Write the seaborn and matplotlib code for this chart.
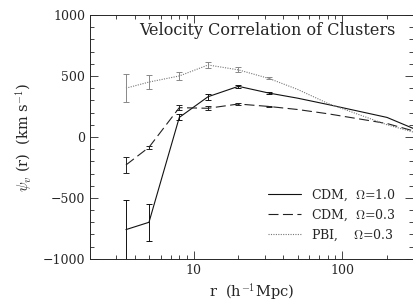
import numpy as np
import pandas as pd
import matplotlib
matplotlib.use("Agg")
import matplotlib.pyplot as plt
import seaborn as sns
from matplotlib.ticker import MultipleLocator, LogLocator, NullFormatter, FixedLocator, FixedFormatter

# ---- data ----
r = [3.5, 5, 8, 12.5, 20, 32, 50, 80, 200, 300]
cdm10 = [-760, -700, 160, 330, 415, 360, 318, 266, 160, 70]
cdm03 = [-230, -85, 240, 235, 270, 250, 225, 190, 110, 50]
pbi03 = [400, 450, 500, 590, 550, 480, 390, 275, 100, 40]
# error bars (lower, upper) for the first six points
err_r = [3.5, 5, 8, 12.5, 20, 32]
cdm10_lo = [300, 150, 25, 25, 15, 8]
cdm10_hi = [240, 150, 25, 25, 15, 8]
cdm03_lo = [65, 10, 20, 15, 10, 6]
cdm03_hi = [65, 10, 20, 15, 10, 6]
pbi03_lo = [110, 60, 30, 25, 20, 8]
pbi03_hi = [120, 60, 30, 25, 20, 8]
labels = [r"CDM,  $\Omega$=1.0", r"CDM,  $\Omega$=0.3", r"PBI,    $\Omega$=0.3"]

sns.set_style("ticks")
plt.rcParams["font.family"] = ["DejaVu Serif"]
plt.rcParams["mathtext.fontset"] = "cm"

df = pd.DataFrame({
    "r": r * 3,
    "psi": cdm10 + cdm03 + pbi03,
    "model": [labels[0]] * len(r) + [labels[1]] * len(r) + [labels[2]] * len(r),
})

fig = plt.figure(figsize=(4.14, 3.06), dpi=100)
ax = fig.add_axes([0.217, 0.154, 0.781, 0.797])

dashes = {labels[0]: "", labels[1]: (9, 4), labels[2]: (1, 1.2)}
palette = {labels[0]: "#111111", labels[1]: "#222222", labels[2]: "#777777"}
sns.lineplot(data=df, x="r", y="psi", hue="model", style="model", dashes=dashes,
             palette=palette, linewidth=0.8, ax=ax, legend=True)

n = len(err_r)
for vals, lo, hi, col in [(cdm10, cdm10_lo, cdm10_hi, "#111111"),
                          (cdm03, cdm03_lo, cdm03_hi, "#222222"),
                          (pbi03, pbi03_lo, pbi03_hi, "#888888")]:
    ax.errorbar(err_r, vals[:n], yerr=[lo, hi], fmt="none", ecolor=col,
                elinewidth=0.7, capsize=2, capthick=0.7)

ax.set_xscale("log")
ax.set_xlim(2, 300)
ax.set_ylim(-1000, 1000)
ax.yaxis.set_major_locator(MultipleLocator(500))
ax.yaxis.set_minor_locator(MultipleLocator(100))
ax.xaxis.set_major_locator(FixedLocator([10, 100]))
ax.xaxis.set_major_formatter(FixedFormatter(["10", "100"]))
ax.xaxis.set_minor_locator(LogLocator(base=10, subs=np.arange(2, 10)))
ax.xaxis.set_minor_formatter(NullFormatter())
ax.tick_params(which="both", direction="in", top=True, right=True, labelsize=9, width=0.6)
ax.tick_params(which="major", length=6)
ax.tick_params(which="minor", length=3)
for s in ax.spines.values():
    s.set_linewidth(0.7)

ax.set_xlabel(r"r  (h$^{-1}$Mpc)", fontsize=10.5, labelpad=3)
ax.set_ylabel(r"$\psi_v$ (r)  (km s$^{-1}$)", fontsize=10.5, labelpad=6)
ax.text(0.55, 0.935, "Velocity Correlation of Clusters", transform=ax.transAxes,
        ha="center", va="center", fontsize=11.5)

leg = ax.legend(loc="lower right", frameon=False, fontsize=9, handlelength=2.6,
                labelspacing=0.35, bbox_to_anchor=(0.98, 0.02))
leg.set_title(None)

fig.savefig("out.png", dpi=100)
